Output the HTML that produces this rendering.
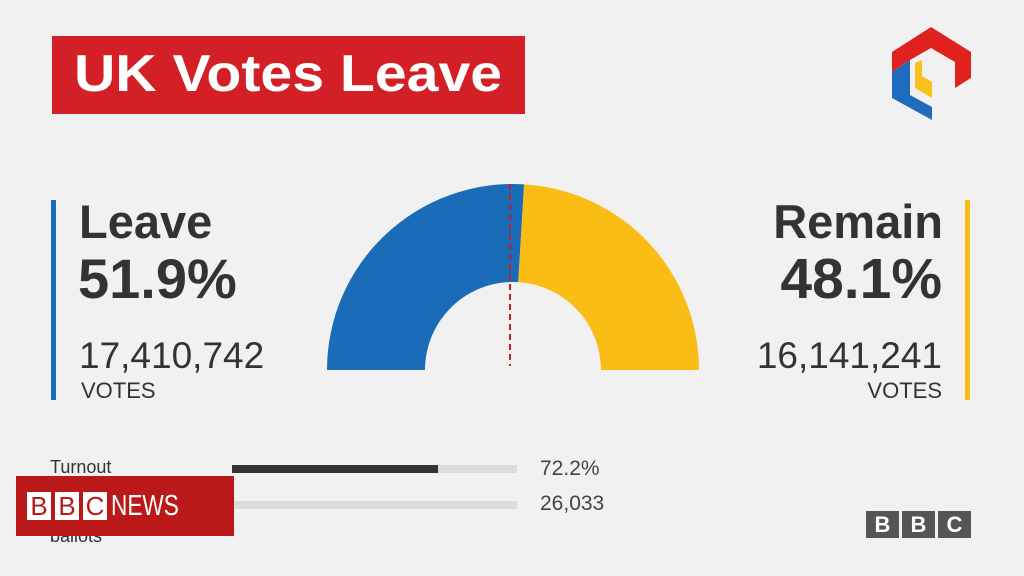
<!DOCTYPE html>
<html><head><meta charset="utf-8"><style>
body{margin:0;background:#f1f1f1;width:1024px;height:576px;overflow:hidden;font-family:"Liberation Sans",sans-serif;position:relative}
.a{position:absolute;white-space:nowrap}
</style></head><body>
<div class="a" style="left:52px;top:36px;width:473px;height:78px;background:#d31f26;"></div>
<div class="a" style="left:74px;top:44px;color:#fff;font-weight:bold;font-size:52px;line-height:60px;transform:scaleX(1.1);transform-origin:left">UK Votes Leave</div>

<svg class="a" style="left:0;top:0" width="1024" height="576">
<polygon points="892,52 931,27 971,52 971,78 955,88 955,62 931,48 910,60 892,72" fill="#e0221f"/>
<polygon points="892,72 910,60 910,95 932,107 932,120 892,98" fill="#1f6bc0"/>
<polygon points="915,63 922,60 922,76 932,82 932,98 915,88" fill="#f7c21b"/>
</svg>

<div class="a" style="left:51px;top:200px;width:5px;height:200px;background:#1b6cb8"></div>
<div class="a" style="left:79px;top:194px;font-size:47px;font-weight:bold;color:#333">Leave</div>
<div class="a" style="left:78px;top:246px;font-size:56px;font-weight:bold;color:#333">51.9%</div>
<div class="a" style="left:79px;top:335px;font-size:37px;color:#333">17,410,742</div>
<div class="a" style="left:81px;top:378px;font-size:22px;color:#333">VOTES</div>

<div class="a" style="left:965px;top:200px;width:5px;height:200px;background:#f9bd16"></div>
<div class="a" style="right:81px;top:194px;font-size:47px;font-weight:bold;color:#333">Remain</div>
<div class="a" style="right:82px;top:246px;font-size:57px;font-weight:bold;color:#333">48.1%</div>
<div class="a" style="right:82px;top:335px;font-size:37px;color:#333">16,141,241</div>
<div class="a" style="right:82px;top:378px;font-size:22px;color:#333">VOTES</div>

<svg class="a" id="gauge" style="left:0;top:0" width="1024" height="576"></svg>

<div class="a" style="left:50px;top:457px;font-size:18px;color:#333">Turnout</div>
<div class="a" style="left:232px;top:465px;width:285px;height:8px;background:#dcdcdc"></div>
<div class="a" id="tbar" style="left:232px;top:465px;width:206px;height:8px;background:#333"></div>
<div class="a" style="left:540px;top:457px;font-size:21px;color:#444">72.2%</div>
<div class="a" style="left:232px;top:501px;width:285px;height:8px;background:#dcdcdc"></div>
<div class="a" style="left:540px;top:492px;font-size:21px;color:#444">26,033</div>
<div class="a" style="left:50px;top:526px;font-size:18px;color:#333">ballots</div>

<div class="a" style="left:16px;top:476px;width:218px;height:60px;background:#bb1919"></div>
<div class="a" style="left:27px;top:492px;display:flex;gap:4px">
<span style="width:24px;height:28px;background:#fff;color:#bb1919;font-size:26px;text-align:center;line-height:28px">B</span>
<span style="width:24px;height:28px;background:#fff;color:#bb1919;font-size:26px;text-align:center;line-height:28px">B</span>
<span style="width:24px;height:28px;background:#fff;color:#bb1919;font-size:26px;text-align:center;line-height:28px">C</span>
</div>
<div class="a" style="left:111px;top:490px;font-size:29px;color:#fff;line-height:32px;transform:scaleX(0.78);transform-origin:left">NEWS</div>

<div class="a" style="left:866px;top:511px;display:flex;gap:3px">
<span style="width:33px;height:27px;background:#555;color:#fff;font-weight:bold;font-size:22px;text-align:center;line-height:27px">B</span>
<span style="width:33px;height:27px;background:#555;color:#fff;font-weight:bold;font-size:22px;text-align:center;line-height:27px">B</span>
<span style="width:33px;height:27px;background:#555;color:#fff;font-weight:bold;font-size:22px;text-align:center;line-height:27px">C</span>
</div>

<script>
const categories=["Leave","Remain"];
const shares=[51.9,48.1];
const colors=["#1b6cb8","#f9bd16"];
const turnout=[72.2];
const svg=document.getElementById('gauge');
const NS="http://www.w3.org/2000/svg";
const cx=513,cy=370,R=186,r=88;
function ang(pct){return Math.PI*(1-pct/100);}
function pt(rad,a){return [cx+rad*Math.cos(a),cy-rad*Math.sin(a)];}
const total=shares.reduce((a,b)=>a+b,0);
let acc=0;
shares.forEach((s,i)=>{
  const a0=ang(acc/total*100),a1=ang((acc+s)/total*100);acc+=s;
  const p0=pt(R,a0),p1=pt(R,a1),q1=pt(r,a1),q0=pt(r,a0);
  const p=document.createElementNS(NS,'path');
  p.setAttribute('d',`M${p0} A${R},${R} 0 0 1 ${p1} L${q1} A${r},${r} 0 0 0 ${q0} Z`);
  p.setAttribute('fill',colors[i]);
  
  
  svg.appendChild(p);
});
const l=document.createElementNS(NS,'line');
l.setAttribute('x1',510);l.setAttribute('x2',510);l.setAttribute('y1',cy-R);l.setAttribute('y2',cy-4);
l.setAttribute('stroke','#c3202a');l.setAttribute('stroke-width','2');l.setAttribute('stroke-dasharray','6,4');


svg.appendChild(l);
document.getElementById('tbar').style.width=(285*turnout[0]/100)+'px';
</script>
</body></html>
